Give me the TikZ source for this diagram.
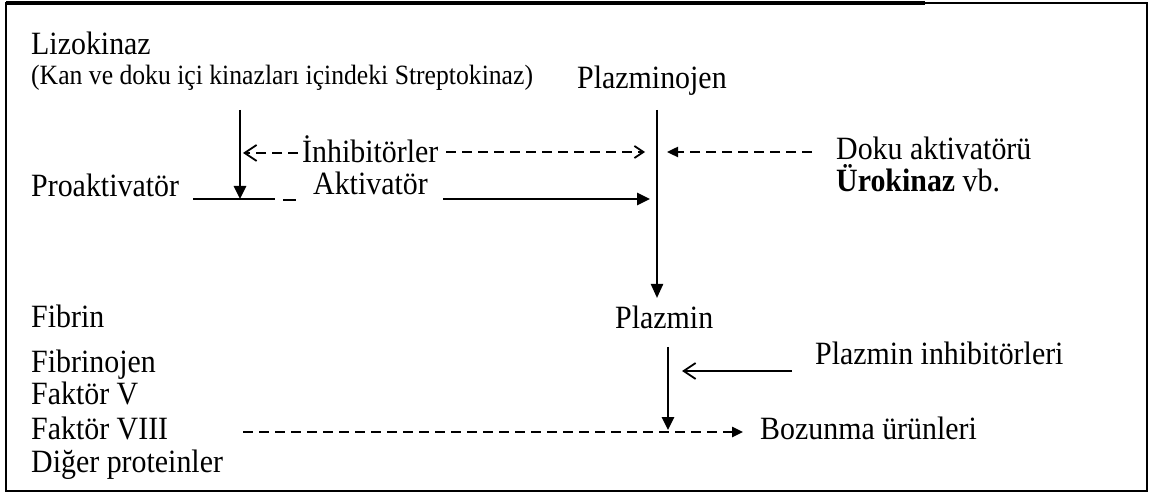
\documentclass[tikz,border=0pt]{standalone}
\usepackage{fontspec}
\setmainfont{Liberation Serif}[FakeStretch=0.92]
\usetikzlibrary{arrows.meta}
\begin{document}
\begin{tikzpicture}[x=1pt,y=-1pt,
  lbl/.style={anchor=base west,inner sep=0pt,font=\fontsize{32.5}{36}\selectfont},
  sml/.style={anchor=base west,inner sep=0pt,font=\fontsize{27.9}{30}\selectfont},
  solidarr/.style={line width=2.8pt,-{Triangle[width=12pt,length=13pt]}},
  thinline/.style={line width=2pt},
  dashln/.style={line width=2.4pt,dash pattern=on 10pt off 6pt},
  openhead/.style={-{Straight Barb[width=16pt,length=12pt,line width=1.8pt]}},
  smallopen/.style={-{Straight Barb[width=12pt,length=9pt,line width=1.8pt]}},
  fillhead/.style={-{Triangle[width=10pt,length=11pt]}},
  framestyle/.style={line width=2.2pt}]
\useasboundingbox (0,0) rectangle (1149,494);
% frame
\draw[framestyle] (6,3) rectangle (1147,491);
\draw[line width=3.2pt] (6,3) -- (925,3);
% texts
\node[lbl] (liz) at (31,55) {Lizokinaz};
\node[sml] (kan) at (31,85) {(Kan ve doku içi kinazları içindeki Streptokinaz)};
\node[lbl] (pgen) at (577,89) {Plazminojen};
\node[lbl] (inh) at (302,163) {İnhibitörler};
\node[lbl] (doku) at (836,160) {Doku aktivatörü};
\node[lbl] (uro) at (836,192) {\textbf{Ürokinaz} vb.};
\node[lbl] (pro) at (31,197) {Proaktivatör};
\node[lbl] (akt) at (313,195) {Aktivatör};
\node[lbl] (pmin) at (615,329) {Plazmin};
\node[lbl] (pinh) at (815,365) {Plazmin inhibitörleri};
\node[lbl] (boz) at (760,439) {Bozunma ürünleri};
\node[lbl] (fib) at (31,328) {Fibrin};
\node[lbl] (fgen) at (31,373) {Fibrinojen};
\node[lbl] (f5) at (31,404) {Faktör V};
\node[lbl] (f8) at (31,439) {Faktör VIII};
\node[lbl] (dig) at (31,472) {Diğer proteinler};
% coordinates
\coordinate (a1) at (240,110);
\coordinate (a2) at (240,199);
\coordinate (h1) at (193,199);
\coordinate (h2) at (275,199);
\coordinate (h3) at (283,200);
\coordinate (h4) at (296,200);
\coordinate (b1) at (657,110);
\coordinate (b2) at (657,298);
\coordinate (c1) at (668,347);
\coordinate (c2) at (668,430);
\coordinate (s1) at (443,199);
\coordinate (s2) at (650,199);
\coordinate (i1) at (298,153);
\coordinate (i2) at (243,153);
\coordinate (i3) at (446,152);
\coordinate (i4) at (645,152);
\coordinate (d1) at (812,152);
\coordinate (d2) at (667,152);
\coordinate (p1) at (792,371);
\coordinate (p2) at (682,371);
\coordinate (z1) at (243,432);
\coordinate (z2) at (743,432);
% connectors
\draw[line width=2.8pt] (h1) -- (h2);
\draw[line width=1.4pt] (h3) -- (h4);
\draw[solidarr] (a1) -- (a2);
\draw[solidarr] (s1) -- (s2);
\draw[line width=2.2pt,-{Triangle[width=12pt,length=14pt]}] (b1) -- (b2);
\draw[solidarr] (c1) -- (c2);
\draw[dashln,openhead] (i1) -- (i2);
\draw[dashln,smallopen] (i3) -- (i4);
\draw[dashln,fillhead] (d1) -- (d2);
\draw[thinline,openhead] (p1) -- (p2);
\draw[dashln,fillhead] (z1) -- (z2);
\end{tikzpicture}
\end{document}
